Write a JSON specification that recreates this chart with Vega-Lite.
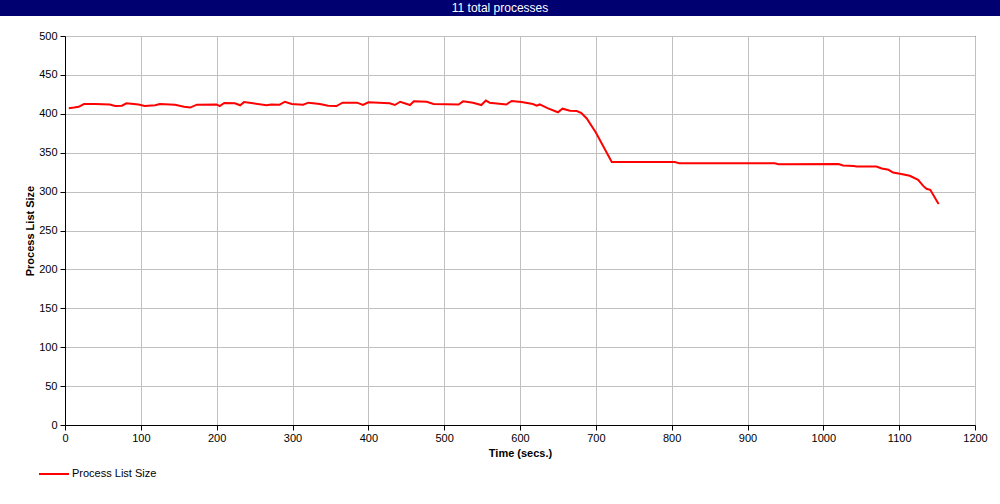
{
  "$schema": "https://vega.github.io/schema/vega-lite/v6.json",
  "background": "white",
  "padding": 0,
  "autosize": {"type": "pad"},
  "spacing": 13,
  "config": {
    "font": "Liberation Sans",
    "view": {"stroke": null}
  },
  "vconcat": [
    {
      "width": 1000,
      "height": 16,
      "view": {"fill": "#000070", "stroke": null},
      "data": {"values": [{"title": "11 total processes"}]},
      "mark": {"type": "text", "color": "white", "fontSize": 12, "baseline": "middle", "align": "center"},
      "encoding": {"text": {"field": "title", "type": "nominal"}}
    },
    {
      "spacing": 0,
      "hconcat": [
        {
          "width": 24,
          "height": 389,
          "data": {"values": [{"blank": ""}]},
          "mark": {"type": "text"},
          "encoding": {"text": {"field": "blank", "type": "nominal"}}
        },
        {
          "width": 910,
          "height": 389,
          "view": {"stroke": "black", "strokeWidth": 1},
          "data": {
            "values": [
              {"t": 5, "v": 407}, {"t": 12, "v": 408}, {"t": 18, "v": 409}, {"t": 25, "v": 412.5},
              {"t": 40, "v": 412.5}, {"t": 59, "v": 412}, {"t": 66, "v": 410}, {"t": 75, "v": 410.4},
              {"t": 81, "v": 413.5}, {"t": 97, "v": 412}, {"t": 105, "v": 410}, {"t": 119, "v": 411},
              {"t": 125, "v": 412.6}, {"t": 145, "v": 411.7}, {"t": 157, "v": 409}, {"t": 165, "v": 408},
              {"t": 174, "v": 411.7}, {"t": 200, "v": 412}, {"t": 204, "v": 410}, {"t": 210, "v": 414},
              {"t": 224, "v": 413.5}, {"t": 231, "v": 411}, {"t": 236, "v": 415}, {"t": 248, "v": 413.5},
              {"t": 266, "v": 411}, {"t": 272, "v": 412}, {"t": 283, "v": 411.7}, {"t": 290, "v": 415.5},
              {"t": 299, "v": 412.6}, {"t": 314, "v": 411.7}, {"t": 321, "v": 414.3}, {"t": 336, "v": 412.6},
              {"t": 347, "v": 410.4}, {"t": 358, "v": 410}, {"t": 366, "v": 414.3}, {"t": 385, "v": 414.3},
              {"t": 393, "v": 411.3}, {"t": 400, "v": 414.8}, {"t": 428, "v": 413.5}, {"t": 435, "v": 411.3},
              {"t": 442, "v": 415.5}, {"t": 455, "v": 411.3}, {"t": 460, "v": 416}, {"t": 477, "v": 415.5},
              {"t": 486, "v": 412.6}, {"t": 519, "v": 412}, {"t": 525, "v": 416}, {"t": 538, "v": 414.3},
              {"t": 549, "v": 411.3}, {"t": 555, "v": 417}, {"t": 560, "v": 414.3}, {"t": 582, "v": 412},
              {"t": 589, "v": 416.5}, {"t": 602, "v": 415.2}, {"t": 617, "v": 412.6}, {"t": 622, "v": 410.4},
              {"t": 626, "v": 412}, {"t": 637, "v": 407}, {"t": 650, "v": 402}, {"t": 656, "v": 406.6},
              {"t": 666, "v": 404}, {"t": 675, "v": 403.6}, {"t": 681, "v": 401}, {"t": 688, "v": 394},
              {"t": 700, "v": 376}, {"t": 721, "v": 338}, {"t": 804, "v": 338}, {"t": 810, "v": 336.5},
              {"t": 936, "v": 336.5}, {"t": 941, "v": 335.2}, {"t": 1020, "v": 335.5}, {"t": 1026, "v": 333.5},
              {"t": 1040, "v": 333}, {"t": 1044, "v": 332.3}, {"t": 1070, "v": 332.3}, {"t": 1077, "v": 329.7},
              {"t": 1086, "v": 328}, {"t": 1092, "v": 324.5}, {"t": 1101, "v": 323}, {"t": 1114, "v": 320.3},
              {"t": 1125, "v": 315}, {"t": 1132, "v": 307}, {"t": 1136, "v": 303.6}, {"t": 1141, "v": 302.3},
              {"t": 1152, "v": 284}
            ]
          },
          "mark": {"type": "line", "strokeWidth": 2},
          "encoding": {
            "x": {
              "field": "t", "type": "quantitative",
              "scale": {"domain": [0, 1200], "nice": false, "zero": false},
              "axis": {
                "values": [0, 100, 200, 300, 400, 500, 600, 700, 800, 900, 1000, 1100, 1200],
                "format": "d",
                "title": "Time (secs.)",
                "titleFontWeight": "bold", "titleFontSize": 11, "titleColor": "black", "titlePadding": 4,
                "labelFontSize": 11, "labelColor": "black", "labelPadding": 2, "labelFlush": false, "labelOverlap": false,
                "grid": true, "gridColor": "#c0c0c0", "gridOpacity": 1,
                "domainColor": "black", "tickColor": "black", "tickSize": 5
              }
            },
            "y": {
              "field": "v", "type": "quantitative",
              "scale": {"domain": [0, 500], "nice": false},
              "axis": {
                "values": [0, 50, 100, 150, 200, 250, 300, 350, 400, 450, 500],
                "format": "d",
                "title": "Process List Size",
                "titleFontWeight": "bold", "titleFontSize": 11, "titleColor": "black", "titlePadding": 3,
                "labelFontSize": 11, "labelColor": "black", "labelPadding": 3, "labelFlush": false, "labelOverlap": false,
                "grid": true, "gridColor": "#c0c0c0", "gridOpacity": 1,
                "domainColor": "black", "tickColor": "black", "tickSize": 5
              }
            },
            "color": {
              "datum": "Process List Size",
              "type": "nominal",
              "scale": {"range": ["#ff0000"]},
              "legend": {
                "orient": "none", "legendX": 38, "legendY": 458,
                "padding": 0, "title": null,
                "symbolType": "stroke", "symbolSize": 900, "symbolStrokeWidth": 2,
                "labelFontSize": 11, "labelColor": "black", "labelOffset": 2
              }
            }
          }
        }
      ]
    }
  ]
}
